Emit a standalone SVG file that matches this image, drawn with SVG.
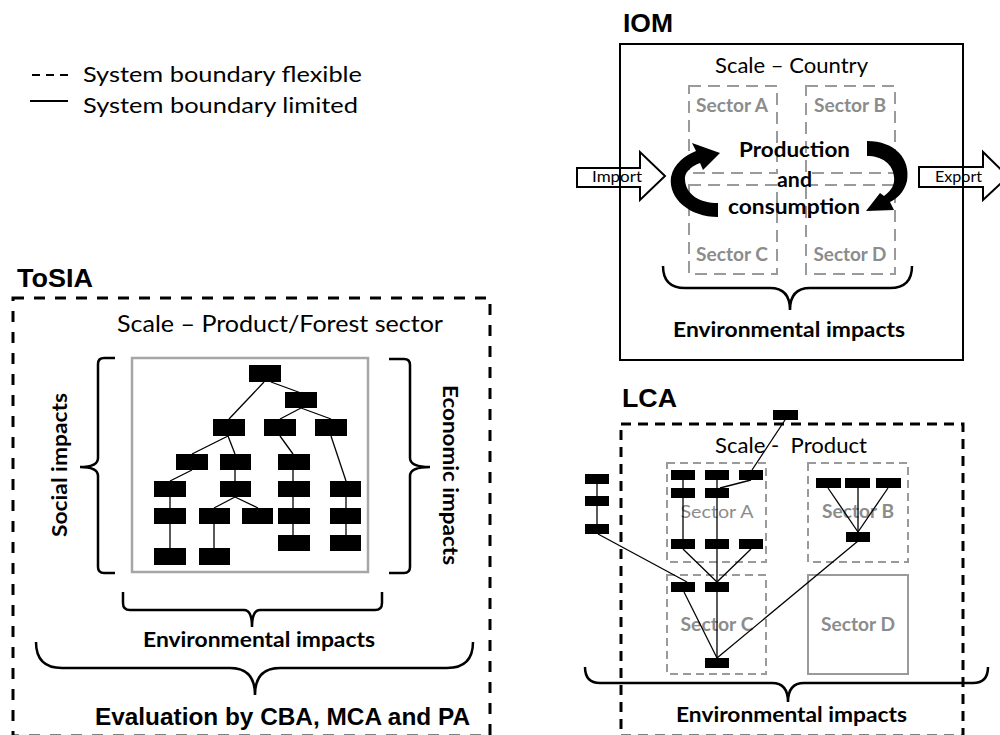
<svg xmlns="http://www.w3.org/2000/svg" width="1000" height="735" viewBox="0 0 1000 735">
<style>
.t{font-family:Lato,"Open Sans","Liberation Sans",sans-serif;fill:#000}
.b{font-weight:bold}
.h{font-family:"Liberation Sans",Arial,sans-serif;font-weight:bold;fill:#000}
.g{fill:#8c8c8c}
.dash{fill:none;stroke:#000;stroke-width:3;stroke-dasharray:11 10}
.dash2{fill:none;stroke:#000;stroke-width:3;stroke-dasharray:10 7}
.gd{fill:none;stroke:#9a9a9a;stroke-width:2;stroke-dasharray:12 7}
.gd2{fill:none;stroke:#9a9a9a;stroke-width:2;stroke-dasharray:8 5}
.gs{fill:none;stroke:#9a9a9a;stroke-width:2}
.br{fill:none;stroke:#000;stroke-width:2.5}
.ln{stroke:#000;stroke-width:1.3;fill:none}
.bx{fill:#000}
.arr{fill:#fff;stroke:#000;stroke-width:2}
</style>
<rect width="1000" height="735" fill="#fff"/>

<!-- Legend -->
<g id="legend">
<line x1="32" y1="75" x2="70" y2="75" stroke="#000" stroke-width="2" stroke-dasharray="8 6"/>
<line x1="30" y1="101" x2="68" y2="101" stroke="#000" stroke-width="2"/>
<text class="t" x="83" y="82" font-size="22" textLength="279" lengthAdjust="spacingAndGlyphs">System boundary flexible</text>
<text class="t" x="83" y="113" font-size="22" textLength="275" lengthAdjust="spacingAndGlyphs">System boundary limited</text>
</g>

<!-- ToSIA -->
<g id="tosia">
<text class="h" x="17" y="287" font-size="25" textLength="76" lengthAdjust="spacingAndGlyphs">ToSIA</text>
<rect class="dash" x="13" y="298" width="477" height="438"/>
<text class="t" x="117" y="332" font-size="23" textLength="326" lengthAdjust="spacingAndGlyphs">Scale – Product/Forest sector</text>
<rect x="132" y="358" width="236" height="214" fill="none" stroke="#a6a6a6" stroke-width="2.5"/>
<path class="br" d="M115,358 L104,358 Q98,358 98,364 L98,458 Q98,467 80,467 Q98,467 98,476 L98,567 Q98,573 104,573 L115,573"/>
<path class="br" d="M389,359 L404,359 Q410,359 410,365 L410,458 Q410,467 430,467 Q410,467 410,476 L410,567 Q410,573 404,573 L389,573"/>
<text class="t b" transform="translate(67,465) rotate(-90)" text-anchor="middle" font-size="21" textLength="144" lengthAdjust="spacingAndGlyphs">Social impacts</text>
<text class="t b" transform="translate(443,475) rotate(90)" text-anchor="middle" font-size="21" textLength="180" lengthAdjust="spacingAndGlyphs">Economic impacts</text>
<path class="br" d="M123,592 L123,603 Q123,610 130,610 L244,610 Q252,610 252,627 Q252,610 260,610 L375,610 Q382,610 382,603 L382,592"/>
<text class="t b" x="143" y="647" font-size="21" textLength="232" lengthAdjust="spacingAndGlyphs">Environmental impacts</text>
<path class="br" d="M36,642 Q36,668 62,668 L230,668 Q255,668 255,695 Q255,668 280,668 L447,668 Q473,668 473,642"/>
<text class="h" x="95" y="725" font-size="23" textLength="375" lengthAdjust="spacingAndGlyphs">Evaluation by CBA, MCA and PA</text>
</g>

<!-- ToSIA tree connectors -->
<g id="tosia-connectors" class="ln">
<line x1="264" y1="382" x2="229" y2="419"/>
<line x1="271" y1="382" x2="301" y2="393"/>
<line x1="301" y1="408" x2="280" y2="419"/>
<line x1="301" y1="408" x2="331" y2="419"/>
<line x1="228" y1="436" x2="192" y2="454"/>
<line x1="228" y1="436" x2="235" y2="454"/>
<line x1="280" y1="436" x2="293" y2="454"/>
<line x1="331" y1="436" x2="346" y2="481"/>
<line x1="192" y1="470" x2="170" y2="481"/>
<line x1="235" y1="470" x2="235" y2="481"/>
<line x1="293" y1="470" x2="293" y2="535"/>
<line x1="170" y1="497" x2="170" y2="548"/>
<line x1="235" y1="497" x2="214" y2="508"/>
<line x1="235" y1="497" x2="258" y2="508"/>
<line x1="214" y1="524" x2="214" y2="548"/>
<line x1="346" y1="497" x2="346" y2="535"/>
</g>
<g id="tosia-nodes" class="bx">
<rect x="249" y="365" width="32" height="17"/>
<rect x="285" y="392" width="32" height="16"/>
<rect x="213" y="419" width="32" height="17"/>
<rect x="264" y="419" width="32" height="17"/>
<rect x="315" y="419" width="32" height="17"/>
<rect x="176" y="454" width="32" height="16"/>
<rect x="220" y="454" width="31" height="16"/>
<rect x="278" y="454" width="32" height="16"/>
<rect x="154" y="481" width="32" height="16"/>
<rect x="220" y="481" width="31" height="16"/>
<rect x="278" y="481" width="32" height="16"/>
<rect x="330" y="481" width="31" height="16"/>
<rect x="154" y="508" width="32" height="16"/>
<rect x="199" y="508" width="31" height="16"/>
<rect x="242" y="508" width="31" height="16"/>
<rect x="278" y="508" width="32" height="16"/>
<rect x="330" y="508" width="31" height="16"/>
<rect x="278" y="535" width="32" height="16"/>
<rect x="330" y="535" width="31" height="16"/>
<rect x="154" y="548" width="32" height="17"/>
<rect x="199" y="548" width="31" height="17"/>
</g>

<!-- IOM -->
<g id="iom">
<text class="h" x="623" y="32" font-size="25" textLength="50" lengthAdjust="spacingAndGlyphs">IOM</text>
<polygon class="arr" points="577,168 640,168 640,152 665,176 640,200 640,187 577,187"/>
<text class="t" x="592" y="182" font-size="15" textLength="50" lengthAdjust="spacingAndGlyphs">Import</text>
<polygon class="arr" points="919,167 983,167 983,152 1008,176.5 983,200 983,187 919,187"/>
<text class="t" x="935" y="182" font-size="15" textLength="47" lengthAdjust="spacingAndGlyphs">Export</text>
<rect x="620" y="44" width="343" height="316" fill="none" stroke="#000" stroke-width="2"/>
<text class="t" x="791.5" y="73" font-size="21" text-anchor="middle" textLength="153" lengthAdjust="spacingAndGlyphs">Scale – Country</text>
<rect class="gd" x="689" y="86" width="88" height="87"/>
<rect class="gd" x="806" y="86" width="89" height="87"/>
<rect class="gd" x="689" y="185" width="88" height="89"/>
<rect class="gd" x="806" y="185" width="89" height="89"/>
<text class="t b g" x="732" y="112" font-size="18" text-anchor="middle" textLength="72" lengthAdjust="spacingAndGlyphs">Sector A</text>
<text class="t b g" x="850" y="112" font-size="18" text-anchor="middle" textLength="72" lengthAdjust="spacingAndGlyphs">Sector B</text>
<text class="t b g" x="732" y="261" font-size="18" text-anchor="middle" textLength="72" lengthAdjust="spacingAndGlyphs">Sector C</text>
<text class="t b g" x="850" y="261" font-size="18" text-anchor="middle" textLength="73" lengthAdjust="spacingAndGlyphs">Sector D</text>
<path d="M718,217 C690,217 668,199 671,177 C674,163 686,155 696,151 L692,143 L720,153 L703,170 L700,163 C690,167 684,173 685,180 C686,195 700,203 718,203 Z" fill="#000"/>
<path d="M867,141 C895,141 911,159 907,181 C904,193 896,199 890,202 L894,210 L866,211 L880,193 L884,196 C892,190 895,184 894,177 C893,164 882,156 867,156 Z" fill="#000"/>
<text class="t b" x="794.5" y="157" font-size="20" text-anchor="middle" textLength="111" lengthAdjust="spacingAndGlyphs">Production</text>
<text class="t b" x="794.5" y="187" font-size="20" text-anchor="middle" textLength="35" lengthAdjust="spacingAndGlyphs">and</text>
<text class="t b" x="794" y="214" font-size="20" text-anchor="middle" textLength="132" lengthAdjust="spacingAndGlyphs">consumption</text>
<path class="br" d="M663,266 Q663,288 685,288 L770,288 Q790,288 790,310 Q790,288 810,288 L890,288 Q912,288 912,266"/>
<text class="t b" x="789" y="337" font-size="21" text-anchor="middle" textLength="232" lengthAdjust="spacingAndGlyphs">Environmental impacts</text>
</g>

<!-- LCA -->
<g id="lca">
<text class="h" x="622" y="407" font-size="25" textLength="55" lengthAdjust="spacingAndGlyphs">LCA</text>
<rect class="dash2" x="621" y="424" width="342" height="312"/>
<text class="t" x="715" y="453" font-size="21" style="white-space:pre" textLength="152" lengthAdjust="spacingAndGlyphs">Scale -  Product</text>
<rect class="gd2" x="667" y="463" width="99" height="99"/>
<rect class="gd2" x="808" y="463" width="100" height="99"/>
<rect class="gd2" x="667" y="575" width="99" height="99"/>
<rect class="gs" x="808" y="575" width="100" height="99"/>
<text class="t g" x="717" y="518" font-size="18" text-anchor="middle" textLength="73" lengthAdjust="spacingAndGlyphs">Sector A</text>
<text class="t b g" x="858" y="518" font-size="18" text-anchor="middle" textLength="72" lengthAdjust="spacingAndGlyphs">Sector B</text>
<text class="t b g" x="717" y="631" font-size="18" text-anchor="middle" textLength="73" lengthAdjust="spacingAndGlyphs">Sector C</text>
<text class="t b g" x="858" y="631" font-size="18" text-anchor="middle" textLength="74" lengthAdjust="spacingAndGlyphs">Sector D</text>
<path class="br" d="M585,667 Q585,683 600,683 L772,683 Q788,683 788,702 Q788,683 804,683 L973,683 Q988,683 988,667"/>
<text class="t b" x="791.5" y="722" font-size="21" text-anchor="middle" textLength="231" lengthAdjust="spacingAndGlyphs">Environmental impacts</text>
</g>

<!-- LCA connectors -->
<g id="lca-connectors" class="ln">
<line x1="785" y1="420" x2="752" y2="470"/>
<line x1="751" y1="480" x2="720" y2="488"/>
<line x1="683" y1="480" x2="683" y2="539"/>
<line x1="717" y1="480" x2="717" y2="658"/>
<line x1="683" y1="549" x2="717" y2="582"/>
<line x1="751" y1="549" x2="717" y2="582"/>
<line x1="597" y1="483" x2="597" y2="524"/>
<line x1="598" y1="534" x2="687" y2="582"/>
<line x1="684" y1="592" x2="717" y2="658"/>
<line x1="858" y1="541" x2="717" y2="658"/>
<line x1="828" y1="488" x2="858" y2="532"/>
<line x1="858" y1="488" x2="858" y2="532"/>
<line x1="888" y1="488" x2="858" y2="532"/>
</g>
<g id="lca-nodes" class="bx">
<rect x="773" y="410" width="25" height="10"/>
<rect x="671" y="470" width="24" height="10"/>
<rect x="705" y="470" width="24" height="10"/>
<rect x="739" y="470" width="24" height="10"/>
<rect x="671" y="488" width="24" height="10"/>
<rect x="705" y="488" width="24" height="10"/>
<rect x="671" y="539" width="24" height="10"/>
<rect x="705" y="539" width="24" height="10"/>
<rect x="739" y="539" width="24" height="10"/>
<rect x="671" y="582" width="24" height="10"/>
<rect x="705" y="582" width="24" height="10"/>
<rect x="705" y="658" width="24" height="10"/>
<rect x="585" y="474" width="24" height="10"/>
<rect x="585" y="496" width="24" height="10"/>
<rect x="585" y="524" width="24" height="10"/>
<rect x="816" y="478" width="25" height="10"/>
<rect x="845" y="478" width="25" height="10"/>
<rect x="876" y="478" width="25" height="10"/>
<rect x="846" y="532" width="24" height="10"/>
</g>
</svg>
